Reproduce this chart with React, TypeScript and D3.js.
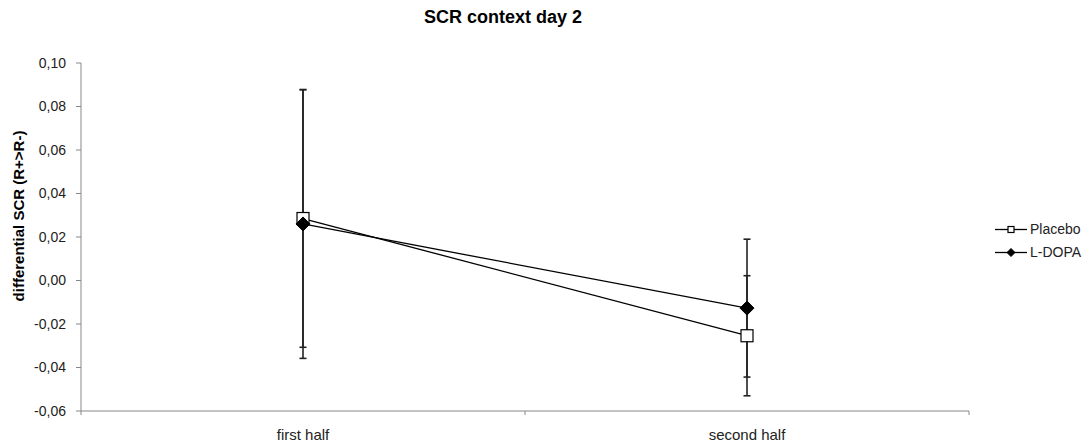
import React from "react";
import * as d3 from "d3";

const categories = ["first half", "second half"];
const placeboValues = [0.0285, -0.0254];
const placeboErrors = [0.0592, 0.0276];
const ldopaValues = [0.026, -0.0127];
const ldopaErrors = [0.0618, 0.0317];
const yTicks = [-0.06, -0.04, -0.02, 0.0, 0.02, 0.04, 0.06, 0.08, 0.1];
const seriesNames = ["Placebo", "L-DOPA"];

const W = 1090;
const H = 448;
const FONT = "'Liberation Sans', Arial, sans-serif";

export default function App() {
  const left = 81;
  const right = 969;
  const top = 63;
  const bottom = 411;

  const x = d3.scaleBand().domain(categories).range([left, right]).padding(0);
  const y = d3.scaleLinear().domain([-0.06, 0.1]).range([bottom, top]);
  const cx = (c: string) => (x(c) as number) + x.bandwidth() / 2;

  const fmt = (v: number) => d3.format(".2f")(v).replace(".", ",").replace("−", "-");

  const line = d3
    .line<number>()
    .x((_, i) => cx(categories[i]))
    .y((d) => y(d));

  const series = [
    { name: seriesNames[0], values: placeboValues, errors: placeboErrors, kind: "square" },
    { name: seriesNames[1], values: ldopaValues, errors: ldopaErrors, kind: "diamond" },
  ];

  const marker = (kind: string, px: number, py: number, s: number, key: string) =>
    kind === "square" ? (
      <rect key={key} x={px - s / 2} y={py - s / 2} width={s} height={s} fill="#fff" stroke="#000" strokeWidth={1.2} />
    ) : (
      <path
        key={key}
        d={`M${px},${py - s / 2 - 1}L${px + s / 2 + 1},${py}L${px},${py + s / 2 + 1}L${px - s / 2 - 1},${py}Z`}
        fill="#000"
        stroke="#000"
        strokeWidth={1}
      />
    );

  return (
    <svg width={W} height={H} style={{ position: "absolute", left: 0, top: 0, background: "#fff" }} fontFamily={FONT}>
      <rect width={W} height={H} fill="#fff" />
      <text x={503} y={23} textAnchor="middle" fontSize={18} fontWeight="bold" fill="#000">
        SCR context day 2
      </text>
      <text
        transform={`translate(24,${216}) rotate(-90)`}
        textAnchor="middle"
        fontSize={15}
        fontWeight="bold"
        fill="#000"
      >
        differential SCR (R+&gt;R-)
      </text>

      {/* y axis */}
      <line x1={left} x2={left} y1={top} y2={bottom} stroke="#888" strokeWidth={1} />
      {yTicks.map((t) => (
        <g key={t}>
          <line x1={left - 5} x2={left} y1={y(t)} y2={y(t)} stroke="#888" />
          <text x={66} y={y(t)} dy="0.35em" textAnchor="end" fontSize={14} fill="#222">
            {fmt(t)}
          </text>
        </g>
      ))}

      {/* x axis */}
      <line x1={left} x2={right} y1={bottom} y2={bottom} stroke="#888" strokeWidth={1} />
      {[left, ...categories.map((c) => (x(c) as number) + x.bandwidth())].map((t, i) => (
        <line key={i} x1={t} x2={t} y1={bottom} y2={bottom + 4} stroke="#888" />
      ))}
      {categories.map((c) => (
        <text key={c} x={cx(c)} y={440} textAnchor="middle" fontSize={15} fill="#222">
          {c}
        </text>
      ))}

      {/* error bars */}
      {series.map((s) =>
        s.values.map((v, i) => {
          const px = cx(categories[i]);
          const y1 = y(v + s.errors[i]);
          const y2 = y(v - s.errors[i]);
          return (
            <g key={s.name + i} stroke="#222" strokeWidth={1.6}>
              <line x1={px} x2={px} y1={y1} y2={y2} />
              <line x1={px - 3.5} x2={px + 3.5} y1={y1} y2={y1} />
              <line x1={px - 3.5} x2={px + 3.5} y1={y2} y2={y2} />
            </g>
          );
        })
      )}

      {/* lines and markers */}
      {series.map((s) => (
        <g key={s.name}>
          <path d={line(s.values) || ""} fill="none" stroke="#000" strokeWidth={1.3} />
          {s.values.map((v, i) => marker(s.kind, cx(categories[i]), y(v), 12, s.name + "m" + i))}
        </g>
      ))}

      {/* legend */}
      {series.map((s, i) => {
        const ly = 229.5 + i * 23;
        return (
          <g key={s.name}>
            <line x1={995} x2={1027} y1={ly} y2={ly} stroke="#000" strokeWidth={1.3} />
            {marker(s.kind, 1011, ly, 6, s.name + "lm")}
            <text x={1030} y={ly} dy="0.35em" fontSize={14} fill="#222">
              {s.name}
            </text>
          </g>
        );
      })}
    </svg>
  );
}
